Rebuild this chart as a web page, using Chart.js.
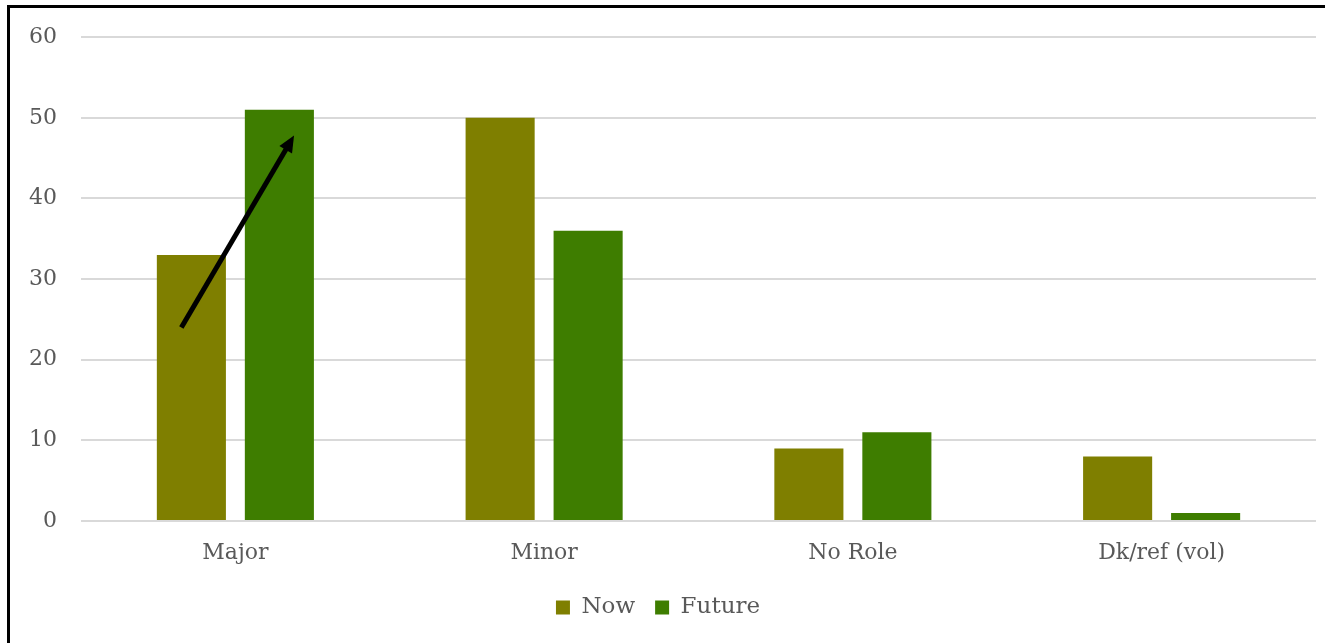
<!DOCTYPE html>
<html>
<head>
<meta charset="utf-8">
<script src="https://cdn.jsdelivr.net/npm/chart.js@4/dist/chart.umd.min.js"></script>
<style>
  html, body { margin: 0; padding: 0; background: #fff; }
  #wrap { position: relative; width: 1325px; height: 643px; overflow: hidden; }
  #frame { position: absolute; left: 7px; top: 5px; width: 1400px; height: 700px;
           border-left: 3px solid #000; border-top: 3px solid #000; box-sizing: border-box; }
  canvas { position: absolute; left: 0; top: 0; }
</style>
</head>
<body>
<div id="wrap">
  <div id="frame"></div>
  <canvas id="grafico" width="1325" height="643"></canvas>
</div>
<script>
var categories = ["Major", "Minor", "No Role", "Dk/ref (vol)"];
var nowValues = [33, 50, 9, 8];
var futureValues = [51, 36, 11, 1];
var yTicks = [0, 10, 20, 30, 40, 50, 60];
// arrow drawn over the Major group, in (category index, value) units
var arrowFrom = [-0.175, 24];
var arrowTo = [0.19, 47.8];

var textColor = "#595959";
var fontFamily = "'DejaVu Serif', 'Liberation Serif', serif";

var arrowPlugin = {
    id: "arrow",
    afterDatasetsDraw: function (chart) {
        var ctx = chart.ctx;
        var xs = chart.scales.x, ys = chart.scales.y;
        var x1 = xs.getPixelForValue(arrowFrom[0]), y1 = ys.getPixelForValue(arrowFrom[1]);
        var x2 = xs.getPixelForValue(arrowTo[0]), y2 = ys.getPixelForValue(arrowTo[1]);
        var ang = Math.atan2(y2 - y1, x2 - x1);
        var head = 18;
        ctx.save();
        ctx.strokeStyle = "#000";
        ctx.fillStyle = "#000";
        ctx.lineWidth = 5;
        ctx.beginPath();
        ctx.moveTo(x1, y1);
        ctx.lineTo(x2 - Math.cos(ang) * head * 0.8, y2 - Math.sin(ang) * head * 0.8);
        ctx.stroke();
        ctx.beginPath();
        ctx.moveTo(x2, y2);
        ctx.lineTo(x2 - head * Math.cos(ang - 0.42), y2 - head * Math.sin(ang - 0.42));
        ctx.lineTo(x2 - head * Math.cos(ang + 0.42), y2 - head * Math.sin(ang + 0.42));
        ctx.closePath();
        ctx.fill();
        ctx.restore();
    }
};

var config = {
    type: "bar",
    data: {
        labels: categories,
        datasets: [
            { label: "Now", data: nowValues, backgroundColor: "#7f7f00" },
            { label: "Future", data: futureValues, backgroundColor: "#3e7d00" }
        ]
    },
    options: {
        responsive: false,
        animation: false,
        categoryPercentage: 0.57,
        barPercentage: 0.785,
        layout: { padding: { left: 0, right: 9, top: 31, bottom: 14 } },
        plugins: {
            legend: {
                position: "bottom",
                labels: {
                    boxWidth: 14, boxHeight: 14, padding: 20,
                    color: textColor,
                    font: { family: fontFamily, size: 23 }
                }
            },
            tooltip: { enabled: false }
        },
        scales: {
            x: {
                grid: { display: false },
                border: { display: false },
                ticks: { color: textColor, padding: 11, font: { family: fontFamily, size: 22 } },
                afterFit: function (s) { s.height = 55; }
            },
            y: {
                min: 0, max: 60,
                afterBuildTicks: function (s) { s.ticks = yTicks.map(function (v) { return { value: v }; }); },
                grid: { color: "#d9d9d9", lineWidth: 2, drawTicks: false },
                border: { display: false },
                ticks: { color: textColor, padding: 24, font: { family: fontFamily, size: 22 } },
                afterFit: function (s) { s.width = 81; }
            }
        }
    },
    plugins: [arrowPlugin]
};

var grafico = new Chart(document.getElementById("grafico"), config);
</script>
</body>
</html>
